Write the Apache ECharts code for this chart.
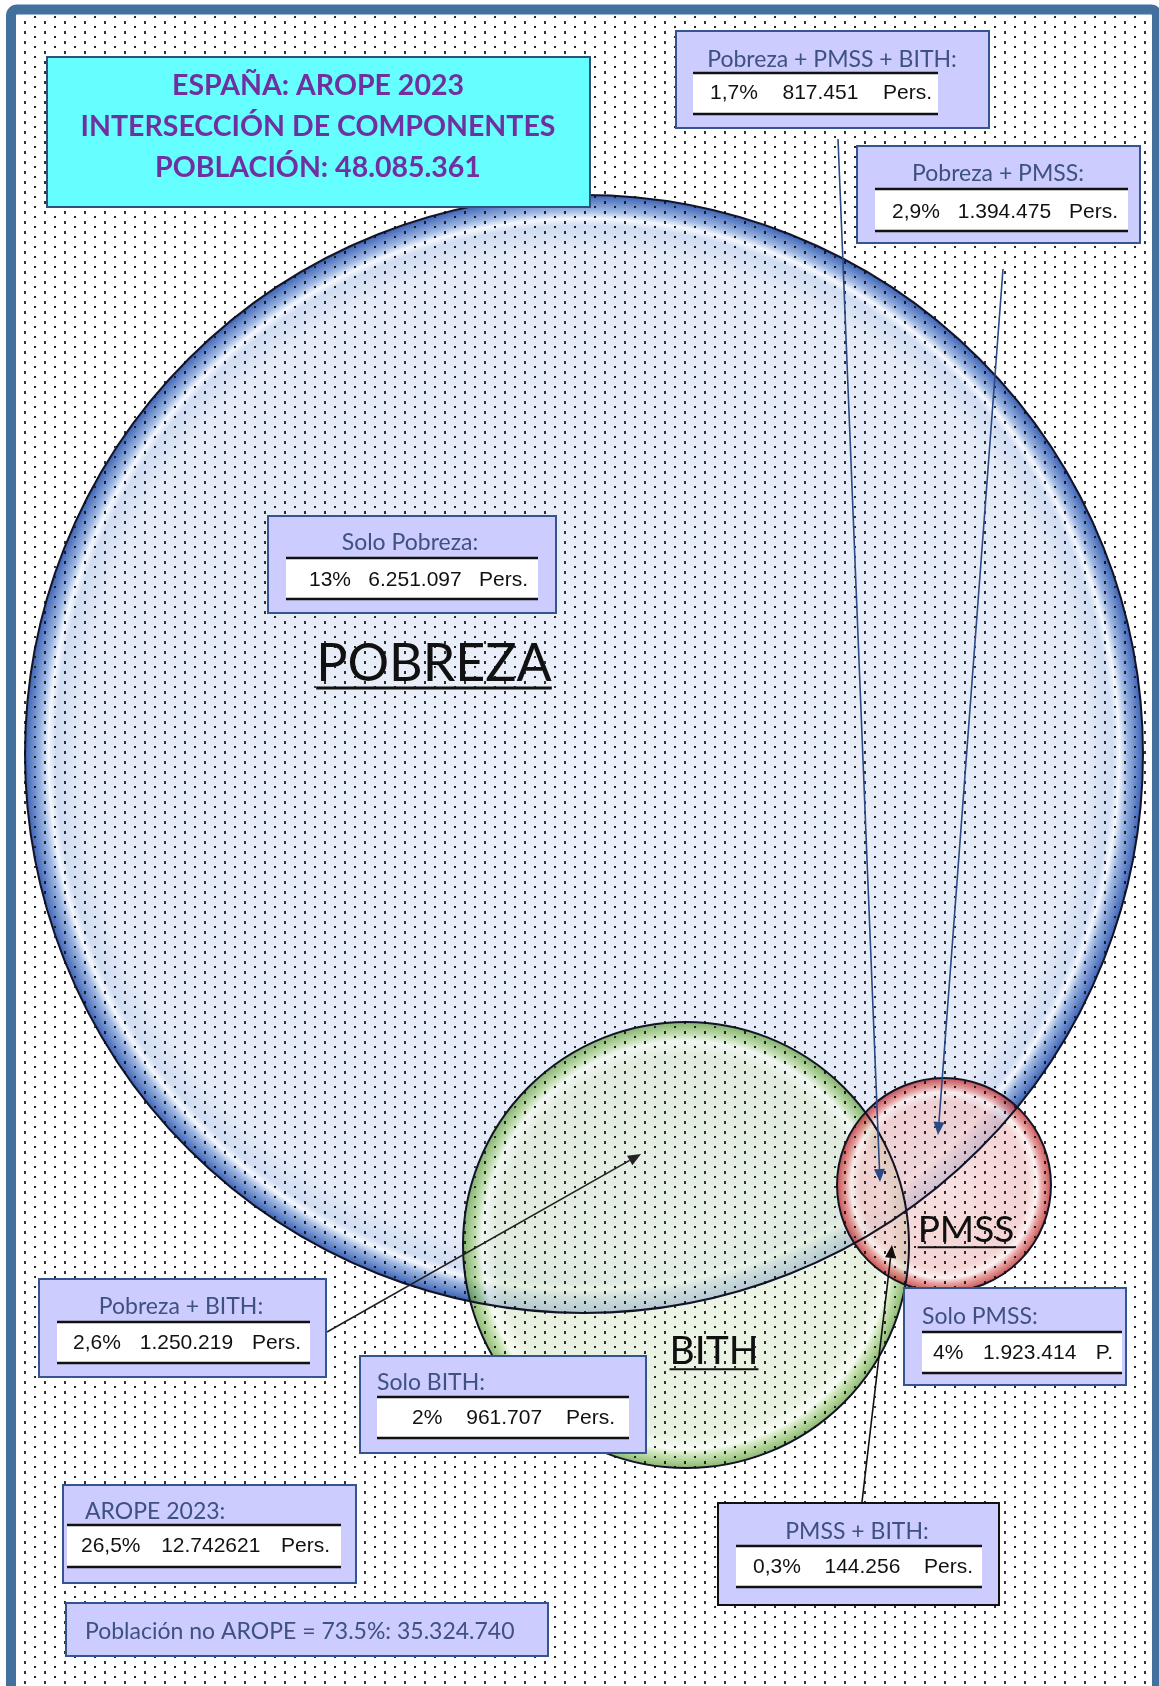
<!DOCTYPE html>
<html><head><meta charset="utf-8">
<script src="https://cdn.jsdelivr.net/npm/echarts@6/dist/echarts.min.js"></script>
<style>html,body{margin:0;padding:0;background:#fff}#c{width:1159px;height:1686px}</style>
</head><body><div id="c"></div>
<script>
// ---------------- DATA ----------------
const setNames = ['POBREZA', 'BITH', 'PMSS'];
const segmentLabels = ['Pobreza + PMSS + BITH:', 'Pobreza + PMSS:', 'Solo Pobreza:', 'Pobreza + BITH:', 'Solo BITH:', 'Solo PMSS:', 'PMSS + BITH:', 'AROPE 2023:'];
const segmentPct = ['1,7%', '2,9%', '13%', '2,6%', '2%', '4%', '0,3%', '26,5%'];
const segmentPersons = ['817.451', '1.394.475', '6.251.097', '1.250.219', '961.707', '1.923.414', '144.256', '12.742621'];
const segmentUnit = ['Pers.', 'Pers.', 'Pers.', 'Pers.', 'Pers.', 'P.', 'Pers.', 'Pers.'];
const titleLines = ['ESPAÑA: AROPE 2023', 'INTERSECCIÓN DE COMPONENTES', 'POBLACIÓN: 48.085.361'];
const noAropeText = 'Población no AROPE = 73.5%: 35.324.740';

// ---------------- LAYOUT (page units) ----------------
const circleCx = [584, 686, 944];
const circleCy = [754, 1245, 1185];
const circleR = [559, 223, 107];
const setLabelPos = [[434, 661, 52], [714, 1349, 39], [966, 1228, 37]];
// box: x1,y1,x2,y2, titleX, titleY, titleAlign, innerX1, innerX2, lineTop, lineBot, numStart, numEnd, numY, border
const boxLayout = [
  [676, 31, 989, 128, 832, 60, 'center', 693, 938, 73, 114, 710, 932, 93, '#34558f'],
  [857, 146, 1140, 243, 998, 174, 'center', 875, 1128, 189, 231, 892, 1118, 212, '#34558f'],
  [268, 516, 556, 613, 410, 543, 'center', 286, 538, 558, 599, 309, 528, 580, '#34558f'],
  [39, 1279, 326, 1377, 181, 1307, 'center', 57, 310, 1322, 1363, 73, 301, 1343, '#34558f'],
  [360, 1356, 646, 1453, 377, 1383, 'left', 377, 629, 1397, 1438, 412, 615, 1418, '#34558f'],
  [904, 1288, 1126, 1385, 922, 1317, 'left', 922, 1122, 1332, 1373, 933, 1113, 1353, '#34558f'],
  [718, 1503, 999, 1605, 857, 1532, 'center', 736, 982, 1546, 1587, 753, 973, 1567, '#111111'],
  [63, 1485, 356, 1583, 85, 1512, 'left', 67, 341, 1525, 1567, 81, 330, 1546, '#34558f']
];
const arrows = [
  [838, 139, 880, 1182, '#2c4a86'],
  [1003, 269, 938, 1135, '#2c4a86'],
  [862, 1502, 892, 1245, '#111111'],
  [327, 1332, 641, 1154, '#222222']
];
const circleStyles = [
  {stops: [[0, '#ebf0f9'], [0.9, '#e4eaf6'], [0.945, '#d0dcf1'], [0.958, '#f3f6fc'], [0.972, '#9fb8e3'], [1, '#3c63b6']], opacity: 1},
  {stops: [[0, '#e8f2e1'], [0.85, '#deebd3'], [0.915, '#f3f9ee'], [0.945, '#b5d998'], [1, '#5f9e38']], opacity: 0.72},
  {stops: [[0, '#f6d9d9'], [0.78, '#f1c9c9'], [0.87, '#fbeded'], [0.92, '#e48d8d'], [1, '#bf2a2a']], opacity: 0.8}
];

const W = 1159, H = 1686;
const chart = echarts.init(document.getElementById('c'));
const mctx = document.createElement('canvas').getContext('2d');
function tw(t, f) { mctx.font = f; return mctx.measureText(t).width; }

function mkPattern() {
  const c = document.createElement('canvas'); c.width = 20; c.height = 10;
  const g = c.getContext('2d');
  g.fillStyle = 'rgba(15,15,15,0.85)';
  g.fillRect(4, 1, 2, 3);
  g.fillStyle = 'rgba(15,15,15,0.9)';
  g.fillRect(14, 6, 2, 2);
  return c;
}
const pattern = {image: mkPattern(), repeat: 'repeat'};

function txt(x, y, text, font, fill, align, valign) {
  return {type: 'text', style: {text: text, x: x, y: y, font: font, fill: fill,
    align: align, verticalAlign: valign || 'middle', textAlign: align, textVerticalAlign: valign || 'middle'}};
}

const numFont = '21px "Liberation Sans", Arial, sans-serif';
const labFont = '23px Lato, sans-serif';

const option = {
  animation: false,
  backgroundColor: '#ffffff',
  grid: {left: 0, right: 0, top: 0, bottom: 0},
  xAxis: {type: 'value', min: 0, max: W, show: false},
  yAxis: {type: 'value', min: 0, max: H, inverse: true, show: false},
  series: [
    { // circle fills
      type: 'custom', z: 2, clip: false, silent: true,
      data: circleCx.map((x, i) => [x, circleCy[i], circleR[i]]),
      renderItem: function (params, api) {
        const i = params.dataIndex;
        const c = api.coord([api.value(0), api.value(1)]);
        const r = api.size([api.value(2), 0])[0];
        const st = circleStyles[i];
        return {type: 'circle', shape: {cx: c[0], cy: c[1], r: r},
          style: {opacity: st.opacity, fill: {type: 'radial', x: 0.5, y: 0.5, r: 0.5,
            colorStops: st.stops.map(s => ({offset: s[0], color: s[1]}))}}};
      }
    },
    { // circle outlines + set names
      type: 'custom', z: 3, clip: false, silent: true,
      data: circleCx.map((x, i) => [x, circleCy[i], circleR[i]]),
      renderItem: function (params, api) {
        const i = params.dataIndex;
        const c = api.coord([api.value(0), api.value(1)]);
        const r = api.size([api.value(2), 0])[0];
        const lp = setLabelPos[i];
        const p = api.coord([lp[0], lp[1]]);
        const f = lp[2] + 'px Lato, sans-serif';
        const w = tw(setNames[i], f);
        const uy = p[1] + lp[2] * 0.52;
        return {type: 'group', children: [
          {type: 'circle', shape: {cx: c[0], cy: c[1], r: r}, style: {fill: 'none', stroke: '#15152a', lineWidth: 2}},
          txt(p[0], p[1] + lp[2] * 0.06, setNames[i], f, '#111111', 'center'),
          {type: 'line', shape: {x1: p[0] - w / 2, y1: uy, x2: p[0] + w / 2, y2: uy}, style: {stroke: '#111111', lineWidth: Math.max(2, lp[2] / 18)}}
        ]};
      }
    },
    { // dotted overlay
      type: 'custom', z: 5, clip: false, silent: true,
      data: [[16, 14, 1152, H]],
      renderItem: function (params, api) {
        const a = api.coord([api.value(0), api.value(1)]);
        const b = api.coord([api.value(2), api.value(3)]);
        return {type: 'rect', shape: {x: a[0], y: a[1], width: b[0] - a[0], height: b[1] - a[1]}, style: {fill: pattern}};
      }
    },
    { // arrows
      type: 'custom', z: 6, clip: false, silent: true,
      data: arrows.map(a => [a[0], a[1], a[2], a[3]]),
      renderItem: function (params, api) {
        const col = arrows[params.dataIndex][4];
        const s = api.coord([api.value(0), api.value(1)]);
        const e = api.coord([api.value(2), api.value(3)]);
        const ang = Math.atan2(e[1] - s[1], e[0] - s[0]);
        const L = 13, Wd = 5.5;
        const bx = e[0] - L * Math.cos(ang), by = e[1] - L * Math.sin(ang);
        const nx = -Math.sin(ang), ny = Math.cos(ang);
        return {type: 'group', children: [
          {type: 'line', shape: {x1: s[0], y1: s[1], x2: bx, y2: by}, style: {stroke: col, lineWidth: 1.6}},
          {type: 'polygon', shape: {points: [[e[0], e[1]], [bx + nx * Wd, by + ny * Wd], [bx - nx * Wd, by - ny * Wd]]}, style: {fill: col}}
        ]};
      }
    },
    { // segment boxes
      type: 'custom', z: 7, clip: false, silent: true,
      data: segmentLabels.map((s, i) => [i]),
      renderItem: function (params, api) {
        const i = params.dataIndex;
        const L = boxLayout[i];
        const p1 = api.coord([L[0], L[1]]), p2 = api.coord([L[2], L[3]]);
        const t = api.coord([L[4], L[5]]);
        const i1 = api.coord([L[7], L[9]]), i2 = api.coord([L[8], L[10]]);
        const ns = api.coord([L[11], L[13]]), ne = api.coord([L[12], L[13]]);
        const pctW = tw(segmentPct[i], numFont), unitW = tw(segmentUnit[i], numFont);
        const midX = (ns[0] + pctW + ne[0] - unitW) / 2;
        return {type: 'group', children: [
          {type: 'rect', shape: {x: p1[0], y: p1[1], width: p2[0] - p1[0], height: p2[1] - p1[1]}, style: {fill: '#ccccff', stroke: L[14], lineWidth: 2}},
          txt(t[0], t[1], segmentLabels[i], labFont, '#3e5181', L[6]),
          {type: 'rect', shape: {x: i1[0], y: i1[1], width: i2[0] - i1[0], height: i2[1] - i1[1]}, style: {fill: '#ffffff'}},
          {type: 'line', shape: {x1: i1[0], y1: i1[1], x2: i2[0], y2: i1[1]}, style: {stroke: '#111111', lineWidth: 2.5}},
          {type: 'line', shape: {x1: i1[0], y1: i2[1], x2: i2[0], y2: i2[1]}, style: {stroke: '#111111', lineWidth: 2.5}},
          txt(ns[0], ns[1], segmentPct[i], numFont, '#111111', 'left'),
          txt(midX, ns[1], segmentPersons[i], numFont, '#111111', 'center'),
          txt(ne[0], ne[1], segmentUnit[i], numFont, '#111111', 'right')
        ]};
      }
    },
    { // title box + no-AROPE box + frame
      type: 'custom', z: 8, clip: false, silent: true,
      data: [[0]],
      renderItem: function (params, api) {
        const a = api.coord([47, 57]), b = api.coord([590, 207]);
        const ch = [
          {type: 'rect', shape: {x: a[0], y: a[1], width: b[0] - a[0], height: b[1] - a[1]}, style: {fill: '#66ffff', stroke: '#2f4f7f', lineWidth: 2}}
        ];
        const ty = [86, 127, 168];
        titleLines.forEach((s, k) => {
          const p = api.coord([318, ty[k]]);
          ch.push(txt(p[0], p[1], s, 'bold 28.5px Lato, sans-serif', '#7030a0', 'center'));
        });
        const c = api.coord([66, 1603]), d = api.coord([548, 1656]);
        ch.push({type: 'rect', shape: {x: c[0], y: c[1], width: d[0] - c[0], height: d[1] - c[1]}, style: {fill: '#ccccff', stroke: '#34558f', lineWidth: 2}});
        const q = api.coord([85, 1632]);
        ch.push(txt(q[0], q[1], noAropeText, labFont, '#3e5181', 'left'));
        const f1 = api.coord([11, 9.5]), f2 = api.coord([1157, H + 20]);
        ch.push({type: 'rect', shape: {x: f1[0], y: f1[1], width: f2[0] - f1[0], height: f2[1] - f1[1], r: 6}, style: {fill: 'none', stroke: '#41719c', lineWidth: 10}});
        return {type: 'group', children: ch};
      }
    }
  ]
};
chart.setOption(option);
</script>
</body></html>
